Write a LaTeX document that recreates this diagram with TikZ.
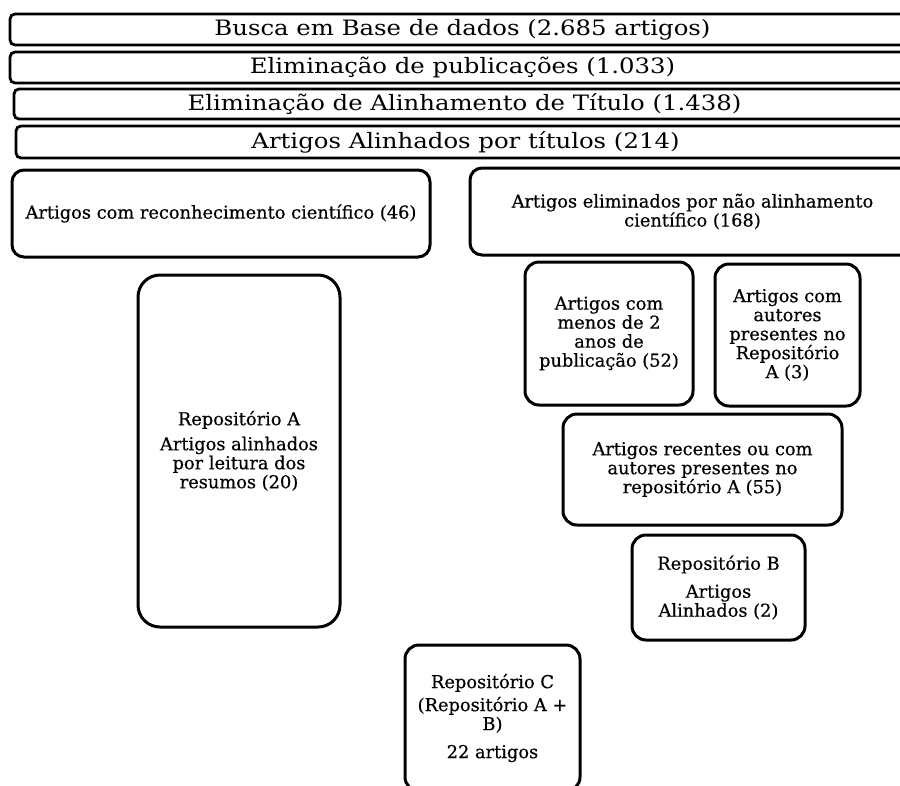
\documentclass[tikz,border=0pt]{standalone}
\usepackage{fontspec}
\setmainfont[FakeBold=0.5]{DejaVu Serif}
\newfontfamily\topfont[FakeStretch=1.15]{DejaVu Serif}
\begin{document}
\begin{tikzpicture}[x=1pt,y=-1pt,
  topbox/.style={draw, line width=2.8pt, rounded corners=5pt, inner sep=0pt,
    minimum width=905pt, font=\topfont\fontsize{21.2}{24}\selectfont},
  box/.style={draw, line width=3pt, rounded corners=14pt, inner sep=0pt,
    align=center, font=\fontsize{17.8}{19}\selectfont}]
\useasboundingbox (0,0) rectangle (900,785);
\clip (0,0) rectangle (900,785);
\node[topbox, minimum height=31pt] (busca) at (462.5,29.5) {Busca em Base de dados (2.685 artigos)};
\node[topbox, minimum height=31pt] (elimpub) at (462.5,67.5) {Eliminação de publicações (1.033)};
\node[topbox, minimum height=30pt, minimum width=901pt] (elimtit) at (464.5,104) {Eliminação de Alinhamento de Título (1.438)};
\node[topbox, minimum height=32pt, minimum width=899pt] (alinh) at (465.5,142) {Artigos Alinhados por títulos (214)};
\node[box, rounded corners=12pt, minimum width=418pt, minimum height=87pt, font=\fontsize{17.8}{19}\selectfont] (recon) at (221,213.5) {Artigos com reconhecimento científico (46)};
\node[box, rounded corners=12pt, minimum width=445pt, minimum height=87pt, font=\fontsize{17.8}{19}\selectfont] (elim) at (692.5,211.5) {Artigos eliminados por não alinhamento\\científico (168)};
\node[box, rounded corners=22pt, minimum width=202pt, minimum height=352pt] (repA) at (239,451) {Repositório A\\[6pt]Artigos alinhados\\por leitura dos\\resumos (20)};
\node[box, minimum width=168pt, minimum height=143pt] (menos) at (609,333.5) {Artigos com\\menos de 2\\anos de\\publicação (52)};
\node[box, minimum width=145pt, minimum height=142pt] (autores) at (787.5,335) {Artigos com\\autores\\presentes no\\Repositório\\A (3)};
\node[box, minimum width=279pt, minimum height=111pt] (recentes) at (702.5,469.5) {Artigos recentes ou com\\autores presentes no\\repositório A (55)};
\node[box, minimum width=173pt, minimum height=105pt] (repB) at (718.5,587.5) {Repositório B\\[9pt]Artigos\\Alinhados (2)};
\node[box, minimum width=175pt, minimum height=146pt] (repC) at (492.5,718) {Repositório C\\[4pt](Repositório A +\\B)\\[9pt]22 artigos};
\end{tikzpicture}
\end{document}
